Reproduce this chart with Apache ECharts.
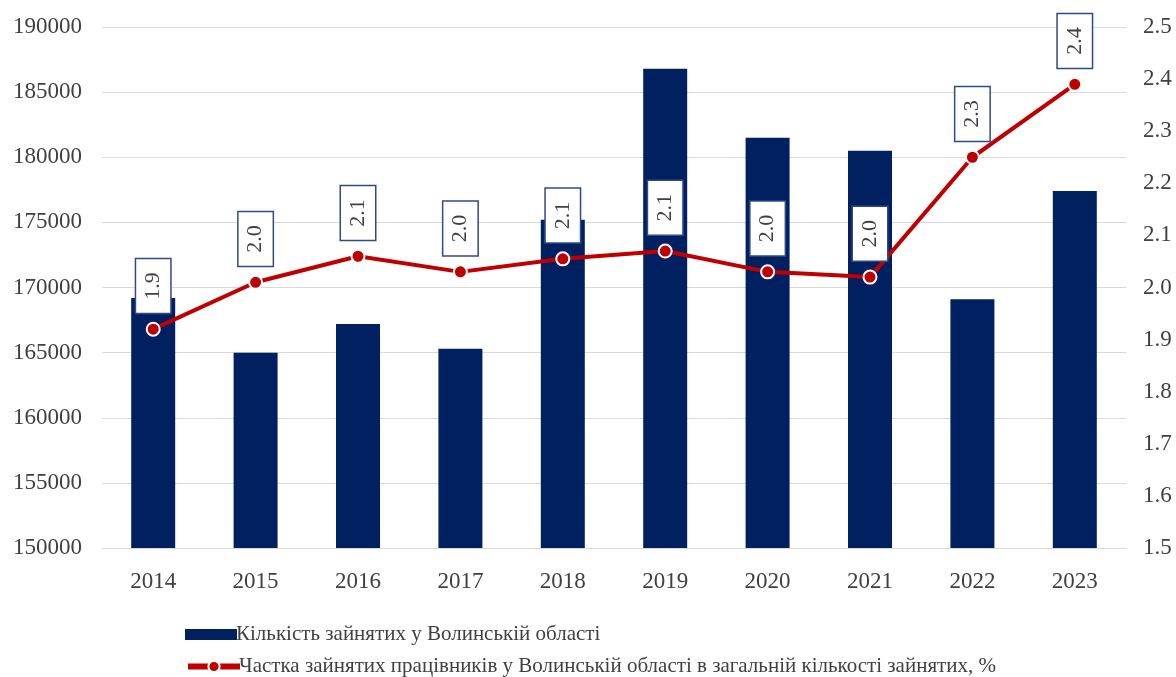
<!DOCTYPE html>
<html>
<head>
<meta charset="utf-8">
<script src="https://cdn.jsdelivr.net/npm/echarts@6/dist/echarts.min.js"></script>
<style>
html,body{margin:0;padding:0;background:#fff;}
#chart{width:1176px;height:677px;}
</style>
</head>
<body>
<div id="chart"></div>
<script>
const years = ['2014','2015','2016','2017','2018','2019','2020','2021','2022','2023'];
const employed = [169200, 165000, 167200, 165300, 175200, 186800, 181500, 180500, 169100, 177400];
const share = [1.92, 2.01, 2.06, 2.03, 2.055, 2.07, 2.03, 2.02, 2.25, 2.39];
const barName = 'Кількість зайнятих у Волинській області';
const lineName = 'Частка зайнятих працівників у Волинській області в загальній кількості зайнятих, %';

const FONT = '"Liberation Serif", "DejaVu Serif", serif';
const legendText = { fontFamily: FONT, fontSize: 21, color: '#404040', padding: [0, 0, 0, -6] };
const chart = echarts.init(document.getElementById('chart'));
chart.setOption({
  animation: false,
  backgroundColor: '#ffffff',
  textStyle: { fontFamily: FONT },
  grid: { left: 102, right: 50, top: 27, bottom: 129 },
  legend: [
    {
      left: 180, top: 619,
      itemWidth: 52, itemHeight: 11, itemGap: 4,
      icon: 'rect',
      textStyle: legendText,
      data: [barName]
    },
    {
      left: 180, top: 651,
      itemWidth: 52, itemHeight: 14, itemGap: 4,
      textStyle: legendText,
      lineStyle: { width: 6 },
      data: [lineName]
    }
  ],
  xAxis: {
    type: 'category',
    data: years,
    axisLine: { show: true, lineStyle: { color: '#d9d9d9', width: 1 } },
    axisTick: { show: false },
    axisLabel: { fontFamily: FONT, fontSize: 23, color: '#404040', margin: 22 }
  },
  yAxis: [
    {
      type: 'value', min: 150000, max: 190000, interval: 5000,
      axisLine: { show: false }, axisTick: { show: false },
      splitLine: { lineStyle: { color: '#d9d9d9', width: 1 } },
      axisLabel: { fontFamily: FONT, fontSize: 23, color: '#404040', margin: 20,
        formatter: v => String(v) }
    },
    {
      type: 'value', min: 1.5, max: 2.5, interval: 0.1,
      axisLine: { show: false }, axisTick: { show: false },
      splitLine: { show: false },
      axisLabel: { fontFamily: FONT, fontSize: 23, color: '#404040', margin: 17,
        formatter: v => v.toFixed(1) }
    }
  ],
  series: [
    {
      name: barName,
      type: 'bar',
      data: employed,
      barWidth: 44,
      itemStyle: { color: '#002060' }
    },
    {
      name: lineName,
      type: 'line',
      yAxisIndex: 1,
      data: share,
      symbol: 'circle',
      symbolSize: 13,
      lineStyle: { color: '#c00000', width: 4 },
      itemStyle: { color: '#c00000', borderColor: '#ffffff', borderWidth: 2 },
      label: {
        show: true,
        position: 'top',
        distance: 9,
        rotate: 90,
        align: 'left',
        verticalAlign: 'middle',
        fontFamily: FONT,
        fontSize: 22,
        lineHeight: 22,
        color: '#404040',
        backgroundColor: '#ffffff',
        borderColor: '#2f4a8a',
        borderWidth: 1.5,
        padding: [6, 13, 6, 13],
        formatter: p => p.value.toFixed(1)
      },
      z: 5
    }
  ]
});
</script>
</body>
</html>
